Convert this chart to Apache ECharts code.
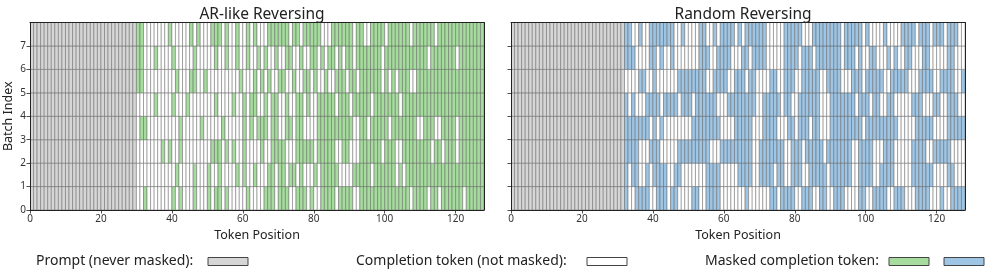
<!DOCTYPE html>
<html><head><meta charset="utf-8">
<script src="https://cdn.jsdelivr.net/npm/echarts@6/dist/echarts.min.js"></script>
<style>html,body{margin:0;padding:0;background:#fff}#c{width:997px;height:272px}</style>
</head><body><div id="c"></div>
<script>
// ---- data ----
const panelTitles = ['AR-like Reversing', 'Random Reversing'];
const xTicks = [0, 20, 40, 60, 80, 100, 120];
const yTicks = [0, 1, 2, 3, 4, 5, 6, 7];
const seqLen = 128;
const nRows = 8;
const leftPromptLen = 30;
const rightPromptLen = 32;
// masks for completion positions (1 = masked), row 0 = batch 0
const leftMasks = [
  "00100000 00101000 10001011 01000001 00001110 11100111 01001111 01111001 11111111 11111011 11011011 11110111 11",
  "00000000 00010000 10001001 00001010 01000110 11011010 00101111 10000111 11011111 10101111 11111111 11111111 11",
  "00000001 01001000 00000111 01010010 00010011 11000111 11011111 00110001 11111011 10011111 11101101 11011111 11",
  "01100000 00001000 00100000 10000010 10111011 00110110 00011111 11111001 10111110 11111110 01110011 11011111 11",
  "00000100 00100010 00000010 00010010 11001011 00100110 10011111 01110111 11011111 11011111 11111111 11111111 11",
  "11000000 00010001 10010000 00000100 01010100 11001001 10100100 11101101 11111010 10111001 11111111 11111111 11",
  "11000100 00100000 10000010 01001001 00101001 00110010 01101011 01011011 11111011 11111111 11011111 11011111 11",
  "11000000 01000001 01000111 01001001 01000111 11101101 11110001 11111011 00111101 11111011 11110111 11111111 11"
];
const rightMasks = [
  "10011110 01110110 00011001 11100000 00100000 01101111 00111001 10011100 00110011 11001110 00111100 01001111",
  "10110010 11110011 00000001 11100000 11110011 11011001 11001111 10111111 00111100 11110000 01111110 00011000",
  "11110001 11000001 11111111 00011111 11110011 11111001 11011111 01111111 00111100 01110000 01111001 11110000",
  "11111110 10100000 00011111 11100001 11110001 11100011 01110110 00111111 11101111 11111000 00111110 00011111",
  "10100011 11011110 11101111 11000111 11111001 11110110 01111110 00111111 10111011 00110000 01110001 10011100",
  "00001100 10000001 11111110 01111001 11011000 01100111 00111110 01111000 11101111 10011111 00011110 01111001",
  "11100001 10100100 00000111 00111100 01101111 00000111 10111011 11111011 10100110 00101001 10001100 00011000",
  "11001001 11111100 10000110 01011110 10111111 00000111 11000111 11111011 11101000 01000011 11011101 11011100"
];
const legendLabels = ['Prompt (never masked):', 'Completion token (not masked):', 'Masked completion token:'];

const colors = { prompt: '#d6d6d6', unmasked: '#ffffff', left: '#a6dc9e', right: '#9fc5e4', edge: '#5a5a5a' };

function buildCells(promptLen, masks) {
  const out = [];
  for (let r = 0; r < nRows; r++) {
    const m = masks[r].replace(/\s+/g, '');
    for (let p = 0; p < seqLen; p++) {
      let t;
      if (p < promptLen) t = 0;
      else t = (m[p - promptLen] === '1') ? 2 : 1;
      out.push([p, r, t]);
    }
  }
  return out;
}

function makeRender(maskColor) {
  return function (params, api) {
    const p = api.value(0), r = api.value(1), t = api.value(2);
    const tl = api.coord([p, r + 1]);
    const br = api.coord([p + 1, r]);
    return {
      type: 'rect',
      shape: { x: tl[0], y: tl[1], width: br[0] - tl[0], height: br[1] - tl[1] },
      style: { fill: t === 0 ? colors.prompt : (t === 2 ? maskColor : colors.unmasked), stroke: colors.edge, lineWidth: 0.45 }
    };
  };
}

const FONT = 'Noto Sans';
const gridDefs = [
  { left: 30, top: 22.5, width: 454, height: 187.5 },
  { left: 511, top: 22.5, width: 454, height: 187.5 }
];

const xAxes = [], yAxes = [];
gridDefs.forEach((g, i) => {
  xAxes.push({
    gridIndex: i, type: 'value', min: 0, max: seqLen, position: 'bottom', z: 10,
    axisLine: { show: true, onZero: false, lineStyle: { color: '#222', width: 1 } },
    axisTick: { show: true, length: 3.5, customValues: xTicks, lineStyle: { color: '#222', width: 0.8 } },
    axisLabel: { customValues: xTicks, fontSize: 10, color: '#333', margin: 4, fontFamily: FONT },
    splitLine: { show: false },
    name: 'Token Position', nameLocation: 'middle', nameGap: 18,
    nameTextStyle: { fontSize: 12.5, color: '#222', fontFamily: FONT }
  });
  xAxes.push({
    gridIndex: i, type: 'value', min: 0, max: seqLen, position: 'top', z: 10,
    axisLine: { show: true, onZero: false, lineStyle: { color: '#222', width: 1 } },
    axisTick: { show: false }, axisLabel: { show: false }, splitLine: { show: false }
  });
  yAxes.push({
    gridIndex: i, type: 'value', min: 0, max: nRows, position: 'left', z: 10,
    axisLine: { show: true, onZero: false, lineStyle: { color: '#222', width: 1 } },
    axisTick: { show: true, length: 3.5, customValues: yTicks, lineStyle: { color: '#222', width: 0.8 } },
    axisLabel: { show: i === 0, customValues: yTicks, fontSize: 10, color: '#333', margin: 4, fontFamily: FONT },
    splitLine: { show: false },
    name: i === 0 ? 'Batch Index' : '', nameLocation: 'middle', nameGap: 15, nameRotate: 90,
    nameTextStyle: { fontSize: 12.5, color: '#222', fontFamily: FONT }
  });
  yAxes.push({
    gridIndex: i, type: 'value', min: 0, max: nRows, position: 'right', z: 10,
    axisLine: { show: true, onZero: false, lineStyle: { color: '#222', width: 1 } },
    axisTick: { show: false }, axisLabel: { show: false }, splitLine: { show: false }
  });
});

const legendY = 261.5;
const patch = (x, fill) => ({
  type: 'rect', shape: { x: x, y: legendY - 4, width: 40, height: 8 },
  style: { fill: fill, stroke: '#444', lineWidth: 1 }
});
const ltext = (x, s) => ({
  type: 'text', x: x, y: legendY,
  style: { text: s, fontSize: 14, fill: '#222', fontFamily: FONT, verticalAlign: 'middle', align: 'left' }
});

const option = {
  animation: false,
  backgroundColor: '#fff',
  title: panelTitles.map((t, i) => ({
    text: t, left: gridDefs[i].left + gridDefs[i].width / 2, top: 2, textAlign: 'center',
    textStyle: { fontSize: 15.5, fontWeight: 'normal', color: '#222', fontFamily: FONT }
  })),
  grid: gridDefs,
  xAxis: xAxes,
  yAxis: yAxes,
  series: [
    { type: 'custom', xAxisIndex: 0, yAxisIndex: 0, data: buildCells(leftPromptLen, leftMasks), renderItem: makeRender(colors.left), clip: true },
    { type: 'custom', xAxisIndex: 2, yAxisIndex: 2, data: buildCells(rightPromptLen, rightMasks), renderItem: makeRender(colors.right), clip: true }
  ],
  graphic: [
    ltext(36, legendLabels[0]), patch(208, colors.prompt),
    ltext(356, legendLabels[1]), patch(587, colors.unmasked),
    ltext(705, legendLabels[2]), patch(889, colors.left), patch(944, colors.right)
  ]
};

const chart = echarts.init(document.getElementById('c'), null, { renderer: 'canvas' });
chart.setOption(option);
</script>
</body></html>
